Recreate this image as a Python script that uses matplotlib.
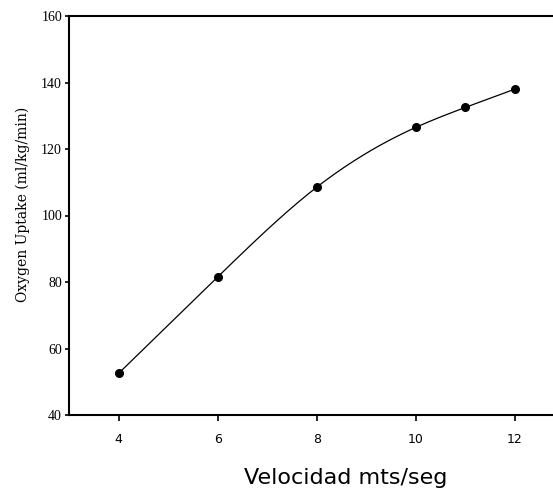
import numpy as np
import matplotlib
matplotlib.use("Agg")
import matplotlib.pyplot as plt

velocity = [4, 6, 8, 10, 11, 12]
oxygen = [52.5, 81.5, 108.5, 126.5, 132.5, 138.0]
x_ticks = [4, 6, 8, 10, 12]
y_ticks = [40, 60, 80, 100, 120, 140, 160]


def natural_spline(x, y, n=300):
    x = np.asarray(x, float)
    y = np.asarray(y, float)
    k = len(x)
    h = np.diff(x)
    A = np.zeros((k, k))
    b = np.zeros(k)
    A[0, 0] = A[-1, -1] = 1
    for i in range(1, k - 1):
        A[i, i - 1] = h[i - 1]
        A[i, i] = 2 * (h[i - 1] + h[i])
        A[i, i + 1] = h[i]
        b[i] = 6 * ((y[i + 1] - y[i]) / h[i] - (y[i] - y[i - 1]) / h[i - 1])
    M = np.linalg.solve(A, b)
    xs = np.linspace(x[0], x[-1], n)
    idx = np.clip(np.searchsorted(x, xs) - 1, 0, k - 2)
    x0, x1 = x[idx], x[idx + 1]
    hh = x1 - x0
    ys = (M[idx] * (x1 - xs) ** 3 / (6 * hh) + M[idx + 1] * (xs - x0) ** 3 / (6 * hh)
          + (y[idx] / hh - M[idx] * hh / 6) * (x1 - xs)
          + (y[idx + 1] / hh - M[idx + 1] * hh / 6) * (xs - x0))
    return xs, ys


W, H = 553, 491
fig = plt.figure(figsize=(W / 100, H / 100), dpi=100)
ax = fig.add_axes([69 / W, (H - 415) / H, (W - 69) / W, (415 - 16) / H])

xs, ys = natural_spline(velocity, oxygen)
ax.plot(xs, ys, color="black", lw=0.9)
ax.plot(velocity, oxygen, "o", color="black", ms=5.5)

ax.set_xlim(3, 12.77)
ax.set_ylim(40, 160)
ax.set_xticks(x_ticks)
ax.set_yticks(y_ticks)
ax.set_xticklabels([str(v) for v in x_ticks], fontsize=9, family="DejaVu Sans")
ax.set_yticklabels([str(v) for v in y_ticks], fontsize=10, family="Liberation Serif")
ax.tick_params(axis="x", direction="out", length=4, width=1.2, pad=9)
ax.tick_params(axis="y", direction="out", length=3, width=1.2, pad=2)

for s in ["left", "bottom", "top"]:
    ax.spines[s].set_linewidth(1.5)
ax.spines["right"].set_visible(False)

fig.text(346 / W, (H - 484) / H, "Velocidad mts/seg", fontsize=16,
         family="DejaVu Sans", ha="center", va="baseline")
fig.text(23 / W, (H - 204) / H, "Oxygen Uptake (ml/kg/min)", fontsize=10,
         family="DejaVu Serif", rotation=90, ha="center", va="center")

fig.savefig("out.png", dpi=100)
